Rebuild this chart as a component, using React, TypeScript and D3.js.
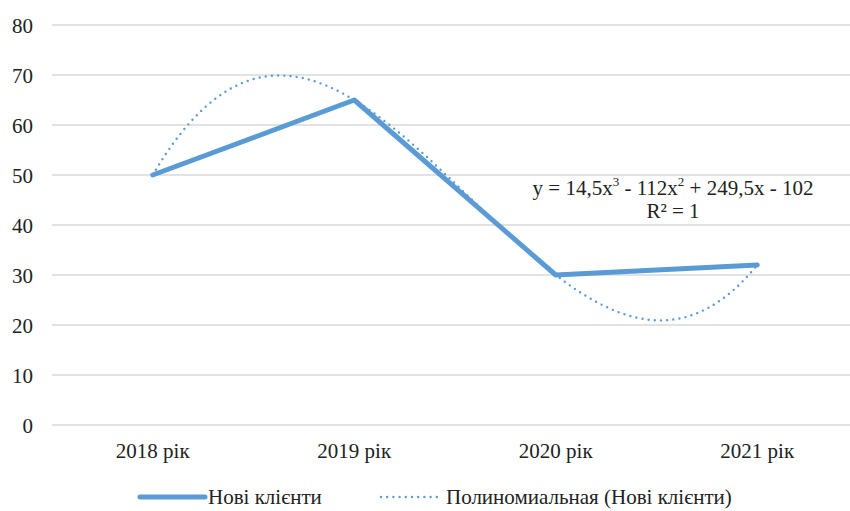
import React from "react";
import * as d3 from "d3";

const categories = ["2018 рік", "2019 рік", "2020 рік", "2021 рік"];
const values = [50, 65, 30, 32];
const trendCoefficients = [14.5, -112, 249.5, -102]; // x^3, x^2, x, const
const yTicks = [0, 10, 20, 30, 40, 50, 60, 70, 80];
const seriesName = "Нові клієнти";
const trendName = "Полиномиальная (Нові клієнти)";

const W = 850;
const H = 511;
const COLOR = "#5B9BD5";
const FONT = "Liberation Serif, Times New Roman, DejaVu Serif, serif";
const FS = 21;

export default function App() {
  const left = 52;
  const right = 858;
  const x = d3.scaleBand<string>().domain(categories).range([left, right]);
  const cx = (i: number) => (x(categories[i]) as number) + x.bandwidth() / 2;
  const y = d3.scaleLinear().domain([0, 80]).range([425, 25]);

  const line = d3
    .line<number>()
    .x((_, i) => cx(i))
    .y((d) => y(d));

  const poly = (t: number) =>
    trendCoefficients.reduce((acc, c) => acc * t + c, 0);
  const tPts = d3.range(1, 4.0001, 0.02);
  const xCont = d3.scaleLinear().domain([1, 4]).range([cx(0), cx(3)]);
  const trendLine = d3
    .line<number>()
    .x((t) => xCont(t))
    .y((t) => y(poly(t)));

  const txt = { fontFamily: FONT, fontSize: FS, fill: "#222" } as React.CSSProperties;

  return (
    <div style={{ position: "fixed", left: 0, top: 0 }}>
      <svg width={W} height={H} style={{ display: "block", background: "#fff" }}>
        {yTicks.map((t) => (
          <g key={t}>
            <line x1={left} x2={W} y1={y(t)} y2={y(t)} stroke="#d9d9d9" strokeWidth={1.3} />
            <text x={33} y={y(t) + 1} textAnchor="end" dominantBaseline="central" style={txt}>
              {t}
            </text>
          </g>
        ))}
        {categories.map((c, i) => (
          <text key={c} x={cx(i)} y={451} textAnchor="middle" dominantBaseline="central" style={txt}>
            {c}
          </text>
        ))}
        <path
          d={line(values) as string}
          fill="none"
          stroke={COLOR}
          strokeWidth={5}
          strokeLinecap="round"
          strokeLinejoin="round"
        />
        <path
          d={trendLine(tPts) as string}
          fill="none"
          stroke={COLOR}
          strokeWidth={2.4}
          strokeDasharray="0 6.2"
          strokeLinecap="round"
        />
        <text x={673} y={188} textAnchor="middle" dominantBaseline="central" style={txt}>
          <tspan>y = 14,5x</tspan>
          <tspan dy={-7} style={{ fontSize: 13 }}>3</tspan>
          <tspan dy={7}> - 112x</tspan>
          <tspan dy={-7} style={{ fontSize: 13 }}>2</tspan>
          <tspan dy={7}> + 249,5x - 102</tspan>
        </text>
        <text x={673} y={211} textAnchor="middle" dominantBaseline="central" style={txt}>
          R² = 1
        </text>
        {/* legend */}
        <line x1={140} x2={205} y1={497} y2={497} stroke={COLOR} strokeWidth={5} strokeLinecap="round" />
        <text x={208} y={497} dominantBaseline="central" style={txt}>
          {seriesName}
        </text>
        <line x1={381} x2={438} y1={497} y2={497} stroke={COLOR} strokeWidth={2.4} strokeDasharray="0 6.2" strokeLinecap="round" />
        <text x={446} y={497} dominantBaseline="central" style={txt}>
          {trendName}
        </text>
      </svg>
    </div>
  );
}
